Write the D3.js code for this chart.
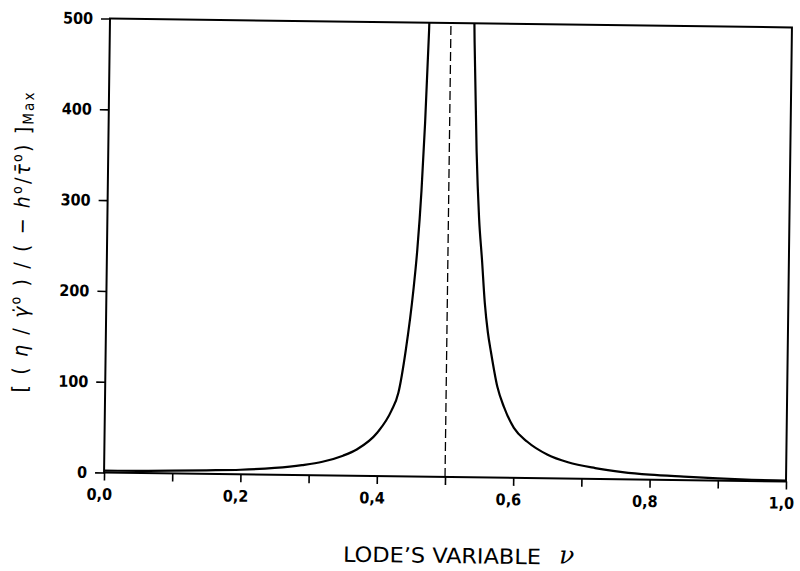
<!DOCTYPE html>
<html>
<head>
    <title>Lode's variable</title>
    <script src="https://cdn.jsdelivr.net/npm/d3@7"></script>
    <style>
        body { margin:0; background:#fff; }
        text { font-family:"Liberation Sans Narrow","DejaVu Sans Condensed",sans-serif; fill:#000; }
        .tick text { font-size:16px; font-weight:bold; }
        path.curve { fill:none; stroke:#000; stroke-width:2.2; }
    </style>
</head>
<body>
    <script>
    // curve, two branches either side of nu = 0.5
    var leftNu  = [0, 0.05, 0.10, 0.15, 0.20, 0.25, 0.29, 0.32, 0.35, 0.37, 0.40, 0.42, 0.43, 0.44, 0.45, 0.455, 0.46, 0.464, 0.468, 0.472];
    var leftVal = [2, 2.4, 3, 3.9, 5, 7.5, 11, 15, 22, 29, 48, 72, 92, 139, 205, 250, 315, 390, 490, 640];
    var rightNu  = [0.53, 0.535, 0.54, 0.545, 0.55, 0.555, 0.56, 0.565, 0.575, 0.585, 0.60, 0.62, 0.65, 0.68, 0.72, 0.76, 0.80, 0.85, 0.90, 0.95, 1.00];
    var rightVal = [640, 480, 360, 285, 240, 192, 160, 138, 100, 78, 55, 40, 26, 18, 12, 8, 5.5, 3.8, 2.4, 1.4, 0.8];
    var asymptote = 0.5;
    var xTicks = [0, 0.1, 0.2, 0.3, 0.4, 0.5, 0.6, 0.7, 0.8, 0.9, 1.0];
    var yTicks = [0, 100, 200, 300, 400, 500];

    var W = 800, H = 571;
    var x0 = 107, x1 = 789, y0 = 23, y1 = 477;

    var svg = d3.select("body").append("svg").attr("width", W).attr("height", H);
    // the scan is a little skewed, turn the whole drawing by the same amount
    var g = svg.append("g").attr("transform", "rotate(0.75,448,250)");

    var x = d3.scaleLinear().domain([0, 1]).range([x0, x1]);
    var y = d3.scaleLinear().domain([0, 500]).range([y1, y0]);

    g.append("clipPath").attr("id", "plot")
        .append("rect").attr("x", x0).attr("y", y0).attr("width", x1 - x0).attr("height", y1 - y0);

    var fmt = function(d) { return d3.format(".1f")(d).replace(".", ","); };

    var xAxis = g.append("g").attr("transform", "translate(0," + y1 + ")")
        .call(d3.axisBottom(x).tickValues(xTicks).tickSize(8).tickPadding(8)
            .tickFormat(function(d, i) { return i % 2 == 0 ? fmt(d) : ""; }));
    xAxis.selectAll("text").attr("dx", -5);

    var yAxis = g.append("g").attr("transform", "translate(" + x0 + ",0)")
        .call(d3.axisLeft(y).tickValues(yTicks).tickSize(9).tickPadding(8).tickFormat(d3.format("d")));

    g.selectAll(".domain").remove();
    g.selectAll(".tick line").attr("stroke", "#000").attr("stroke-width", 1.6);

    // frame
    g.append("rect").attr("x", x0).attr("y", y0).attr("width", x1 - x0).attr("height", y1 - y0)
        .attr("fill", "none").attr("stroke", "#000").attr("stroke-width", 2);

    // dashed asymptote
    g.append("line").attr("x1", x(asymptote)).attr("x2", x(asymptote))
        .attr("y1", y(0)).attr("y2", y(500))
        .attr("stroke", "#000").attr("stroke-width", 1.3).attr("stroke-dasharray", "9,4");

    var line = d3.line().x(function(d) { return x(d[0]); }).y(function(d) { return y(d[1]); })
        .curve(d3.curveMonotoneX);

    var branches = [d3.zip(leftNu, leftVal), d3.zip(rightNu, rightVal)];
    g.append("g").attr("clip-path", "url(#plot)").selectAll("path")
        .data(branches).enter().append("path")
        .attr("class", "curve").attr("d", line);

    // x title
    g.append("text").attr("x", 347).attr("y", 563)
        .attr("font-size", 21).attr("textLength", 198).attr("lengthAdjust", "spacingAndGlyphs")
        .text("LODE\u2019S VARIABLE");
    g.append("text").attr("x", 563).attr("y", 562)
        .attr("font-size", 25).attr("font-style", "italic")
        .style("font-family", "'DejaVu Serif',serif")
        .text("\u03BD");

    // y title
    var yt = g.append("text").attr("transform", "translate(29,248) rotate(-90)")
        .attr("text-anchor", "middle").attr("font-size", 21)
        .attr("textLength", 300).attr("lengthAdjust", "spacing");
    yt.append("tspan").text("[ (");
    yt.append("tspan").attr("font-style", "italic").text(" \u03B7 ");
    yt.append("tspan").text(" /  ");
    yt.append("tspan").attr("font-style", "italic").text("\u03B3\u0307");
    yt.append("tspan").attr("font-size", 14).attr("dy", -8).text("o");
    yt.append("tspan").attr("dy", 8).text(" )  /  ( \u2212 ");
    yt.append("tspan").attr("font-style", "italic").text("h");
    yt.append("tspan").attr("font-size", 14).attr("dy", -8).text("o");
    yt.append("tspan").attr("dy", 8).text("/");
    yt.append("tspan").attr("font-style", "italic").text("\u03C4\u0304");
    yt.append("tspan").attr("font-size", 14).attr("dy", -8).text("o");
    yt.append("tspan").attr("dy", 8).text(") ]");
    yt.append("tspan").attr("font-size", 15).attr("dy", 3).text("Max");
    </script>
</body>
</html>
